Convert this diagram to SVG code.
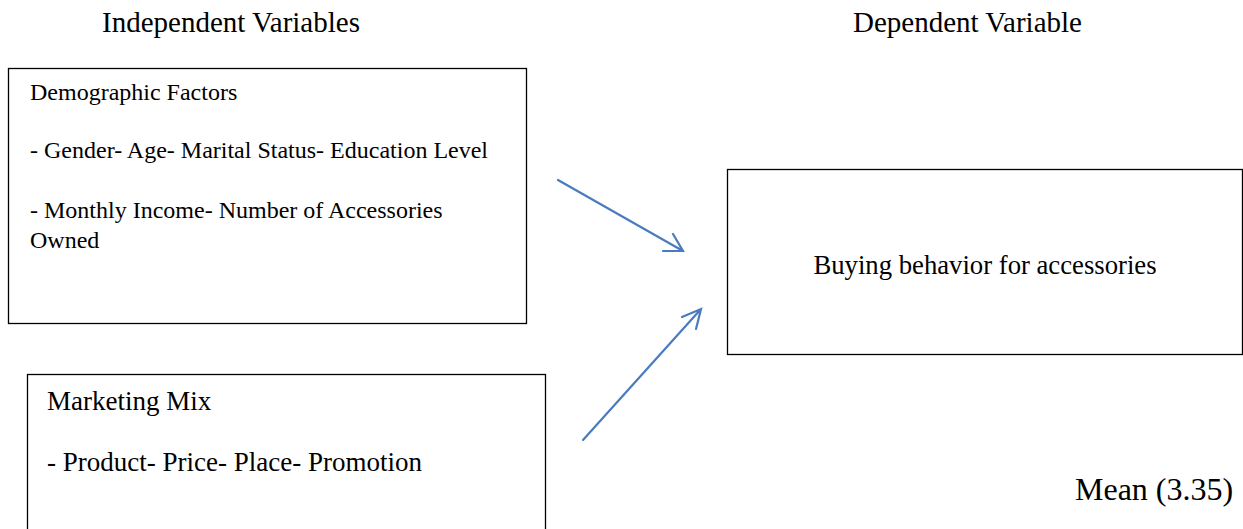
<svg xmlns="http://www.w3.org/2000/svg" width="1243" height="529" viewBox="0 0 1243 529">
<style>
text{font-family:"Liberation Serif","Times New Roman",serif;fill:#000}
.h{font-size:29px}
.t{font-size:24px}
.b{font-size:27px}
.bb{font-size:26.7px}
.m{font-size:32px}
.box{fill:#fff;stroke:#000;stroke-width:1.3}
.c{fill:none;stroke:#4a7bbf;stroke-width:2.2;stroke-linecap:round}
</style>
<rect width="1243" height="529" fill="#fff"/>
<text class="h" x="102" y="32">Independent Variables</text>
<text class="h" x="853" y="32">Dependent Variable</text>
<g id="demographic">
<rect class="box" x="8.5" y="68.5" width="518" height="255"/>
<text class="t" x="30" y="100">Demographic Factors</text>
<text class="t" x="30" y="158">- Gender- Age- Marital Status- Education Level</text>
<text class="t" x="30" y="218">- Monthly Income- Number of Accessories</text>
<text class="t" x="30" y="248">Owned</text>
</g>
<g id="marketing">
<rect class="box" x="27.5" y="374.5" width="518" height="170"/>
<text class="b" x="47" y="410">Marketing Mix</text>
<text class="b" x="47" y="471">- Product- Price- Place- Promotion</text>
</g>
<g id="buying">
<rect class="box" x="727.5" y="169.5" width="515" height="185"/>
<text class="bb" x="985" y="274" text-anchor="middle">Buying behavior for accessories</text>
</g>
<text class="m" x="1075" y="500">Mean (3.35)</text>
<g id="connectors">
<path class="c" d="M558,180 L683,251 M663,251 L683,251 L673,234"/>
<path class="c" d="M583,440 L701,309 M682,317 L701,309 L696,329"/>
</g>
</svg>
